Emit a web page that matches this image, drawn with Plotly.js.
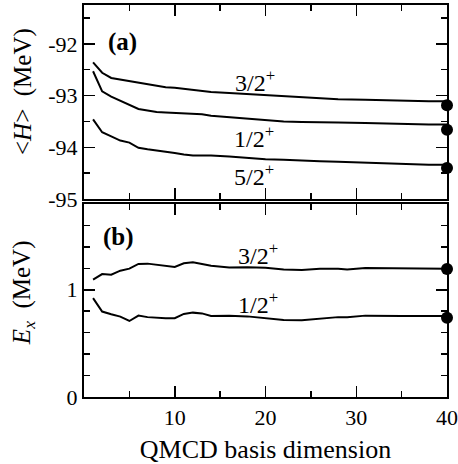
<!DOCTYPE html>
<html>
<head>
<meta charset="utf-8">
<script src="https://cdn.plot.ly/plotly-3.0.1.min.js"></script>
<style>html,body{margin:0;padding:0;background:#fff;}#plot{width:458px;height:464px;}</style>
</head>
<body>
<div id="plot"></div>
<script>
// ---- data ----
const basisDim = [1,2,3,4,5,6,7,8,9,10,11,12,13,14,16,18,20,22,24,26,28,31,35,38,40];
const H_32 = [-92.36,-92.56,-92.66,-92.69,-92.72,-92.76,-92.78,-92.82,-92.84,-92.85,-92.87,-92.88,-92.91,-92.93,-92.95,-92.97,-93.00,-93.02,-93.04,-93.06,-93.07,-93.08,-93.10,-93.11,-93.11];
const H_12 = [-92.53,-92.92,-93.02,-93.10,-93.18,-93.26,-93.29,-93.32,-93.33,-93.34,-93.35,-93.35,-93.36,-93.39,-93.42,-93.44,-93.48,-93.50,-93.51,-93.52,-93.52,-93.53,-93.55,-93.56,-93.56];
const H_52 = [-93.46,-93.71,-93.79,-93.87,-93.91,-94.01,-94.04,-94.06,-94.09,-94.11,-94.14,-94.16,-94.16,-94.16,-94.18,-94.21,-94.23,-94.24,-94.26,-94.27,-94.28,-94.30,-94.32,-94.34,-94.34];

const basisDimEx = [1,2,3,4,5,6,7,8,9,10,11,12,13,14,16,18,20,22,24,26,28,29,31,35,38,40];
const Ex_32 = [1.094,1.147,1.141,1.178,1.197,1.241,1.244,1.235,1.220,1.213,1.247,1.256,1.241,1.225,1.209,1.211,1.205,1.190,1.185,1.197,1.197,1.190,1.203,1.203,1.203,1.197];
const Ex_12 = [0.922,0.797,0.772,0.750,0.709,0.759,0.745,0.738,0.735,0.735,0.775,0.787,0.780,0.755,0.758,0.752,0.738,0.719,0.716,0.728,0.745,0.744,0.759,0.756,0.759,0.756];

const exactX = [40, 40, 40];
const exactH = [-93.19, -93.66, -94.40];
const exactExX = [40, 40];
const exactEx = [1.194, 0.74];

const xTickVals = [10, 20, 30, 40];
const xTickText = ['10', '20', '30', '40'];
const hTickVals = [-95, -94, -93, -92];
const hTickText = ['-95', '-94', '-93', '-92'];
const exTickVals = [0, 1];
const exTickText = ['0', '1'];

// ---- plot ----
const FONT = 'Liberation Serif, DejaVu Serif, serif';
const lineStyle = {color: '#000', width: 2};
const dotStyle = {color: '#000', size: 12};

const traces = [
  {x: basisDim, y: H_32, xaxis: 'x2', yaxis: 'y2', mode: 'lines', line: lineStyle},
  {x: basisDim, y: H_12, xaxis: 'x2', yaxis: 'y2', mode: 'lines', line: lineStyle},
  {x: basisDim, y: H_52, xaxis: 'x2', yaxis: 'y2', mode: 'lines', line: lineStyle},
  {x: exactX, y: exactH, xaxis: 'x2', yaxis: 'y2', mode: 'markers', marker: dotStyle, cliponaxis: false},
  {x: basisDimEx, y: Ex_32, xaxis: 'x', yaxis: 'y', mode: 'lines', line: lineStyle},
  {x: basisDimEx, y: Ex_12, xaxis: 'x', yaxis: 'y', mode: 'lines', line: lineStyle},
  {x: exactExX, y: exactEx, xaxis: 'x', yaxis: 'y', mode: 'markers', marker: dotStyle, cliponaxis: false}
];

const TICKFONT = {family: FONT, size: 22, color: '#000'};
const TITLEFONT = {family: FONT, size: 26, color: '#000'};
const YTITLEFONT = {family: FONT, size: 25, color: '#000'};
const LABELFONT = {family: FONT, size: 24, color: '#000'};
const PANELFONT = {family: FONT, size: 25, color: '#000'};

const axisCommon = {
  showline: true, linecolor: '#000', linewidth: 2, mirror: 'allticks',
  ticks: 'inside', ticklen: 11, tickwidth: 1.5, tickcolor: '#000',
  showgrid: false, zeroline: false, fixedrange: true, automargin: false,
  ticklabeloverflow: 'allow', tickfont: TICKFONT
};
const minorX = {dtick: 5, tick0: 0, ticks: 'inside', ticklen: 6, tickwidth: 1.5, tickcolor: '#000'};

const layout = {
  width: 458, height: 464,
  margin: {l: 84, r: 11, t: 5, b: 67},
  paper_bgcolor: '#fff', plot_bgcolor: '#fff',
  showlegend: false,
  font: {family: FONT, size: 22, color: '#000'},
  xaxis: Object.assign({}, axisCommon, {
    anchor: 'y', domain: [0, 1], range: [0, 40],
    tickmode: 'array', tickvals: xTickVals, ticktext: xTickText,
    minor: minorX,
    title: {text: 'QMCD basis dimension', font: TITLEFONT, standoff: 11}
  }),
  yaxis: Object.assign({}, axisCommon, {
    anchor: 'x', domain: [0, 0.4923], range: [0, 1.8],
    tickmode: 'array', tickvals: exTickVals, ticktext: exTickText,
    minor: {dtick: 0.2, tick0: 0, ticks: 'inside', ticklen: 6, tickwidth: 1.5, tickcolor: '#000'}
  }),
  xaxis2: Object.assign({}, axisCommon, {
    anchor: 'y2', domain: [0, 1], range: [0, 40],
    tickmode: 'array', tickvals: xTickVals, ticktext: xTickText, showticklabels: false,
    minor: minorX
  }),
  yaxis2: Object.assign({}, axisCommon, {
    anchor: 'x2', domain: [0.5051, 1], range: [-95, -91.25],
    tickmode: 'array', tickvals: hTickVals, ticktext: hTickText,
    minor: {dtick: 0.5, tick0: -95, ticks: 'inside', ticklen: 6, tickwidth: 1.5, tickcolor: '#000'}
  }),
  annotations: [
    {xref: 'paper', yref: 'paper', x: -0.168, y: 0.778, text: '&lt;<i>H</i>&gt;  (MeV)', textangle: -90, showarrow: false, xanchor: 'center', yanchor: 'middle', font: YTITLEFONT},
    {xref: 'paper', yref: 'paper', x: -0.168, y: 0.265, text: '<i>E<sub>x</sub></i>  (MeV)', textangle: -90, showarrow: false, xanchor: 'center', yanchor: 'middle', font: YTITLEFONT},
    {xref: 'x2', yref: 'y2', x: 4.19, y: -91.96, text: '<b>(a)</b>', showarrow: false, xanchor: 'center', yanchor: 'middle', font: PANELFONT},
    {xref: 'x', yref: 'y', x: 3.75, y: 1.497, text: '<b>(b)</b>', showarrow: false, xanchor: 'center', yanchor: 'middle', font: PANELFONT},
    {xref: 'x2', yref: 'y2', x: 18.8, y: -92.71, text: '3/2<sup>+</sup>', showarrow: false, xanchor: 'center', yanchor: 'middle', font: LABELFONT},
    {xref: 'x2', yref: 'y2', x: 18.7, y: -93.80, text: '1/2<sup>+</sup>', showarrow: false, xanchor: 'center', yanchor: 'middle', font: LABELFONT},
    {xref: 'x2', yref: 'y2', x: 18.7, y: -94.53, text: '5/2<sup>+</sup>', showarrow: false, xanchor: 'center', yanchor: 'middle', font: LABELFONT},
    {xref: 'x', yref: 'y', x: 19.2, y: 1.333, text: '3/2<sup>+</sup>', showarrow: false, xanchor: 'center', yanchor: 'middle', font: LABELFONT},
    {xref: 'x', yref: 'y', x: 19.2, y: 0.873, text: '1/2<sup>+</sup>', showarrow: false, xanchor: 'center', yanchor: 'middle', font: LABELFONT}
  ]
};

Plotly.newPlot('plot', traces, layout, {staticPlot: true, displayModeBar: false});
</script>
</body>
</html>
